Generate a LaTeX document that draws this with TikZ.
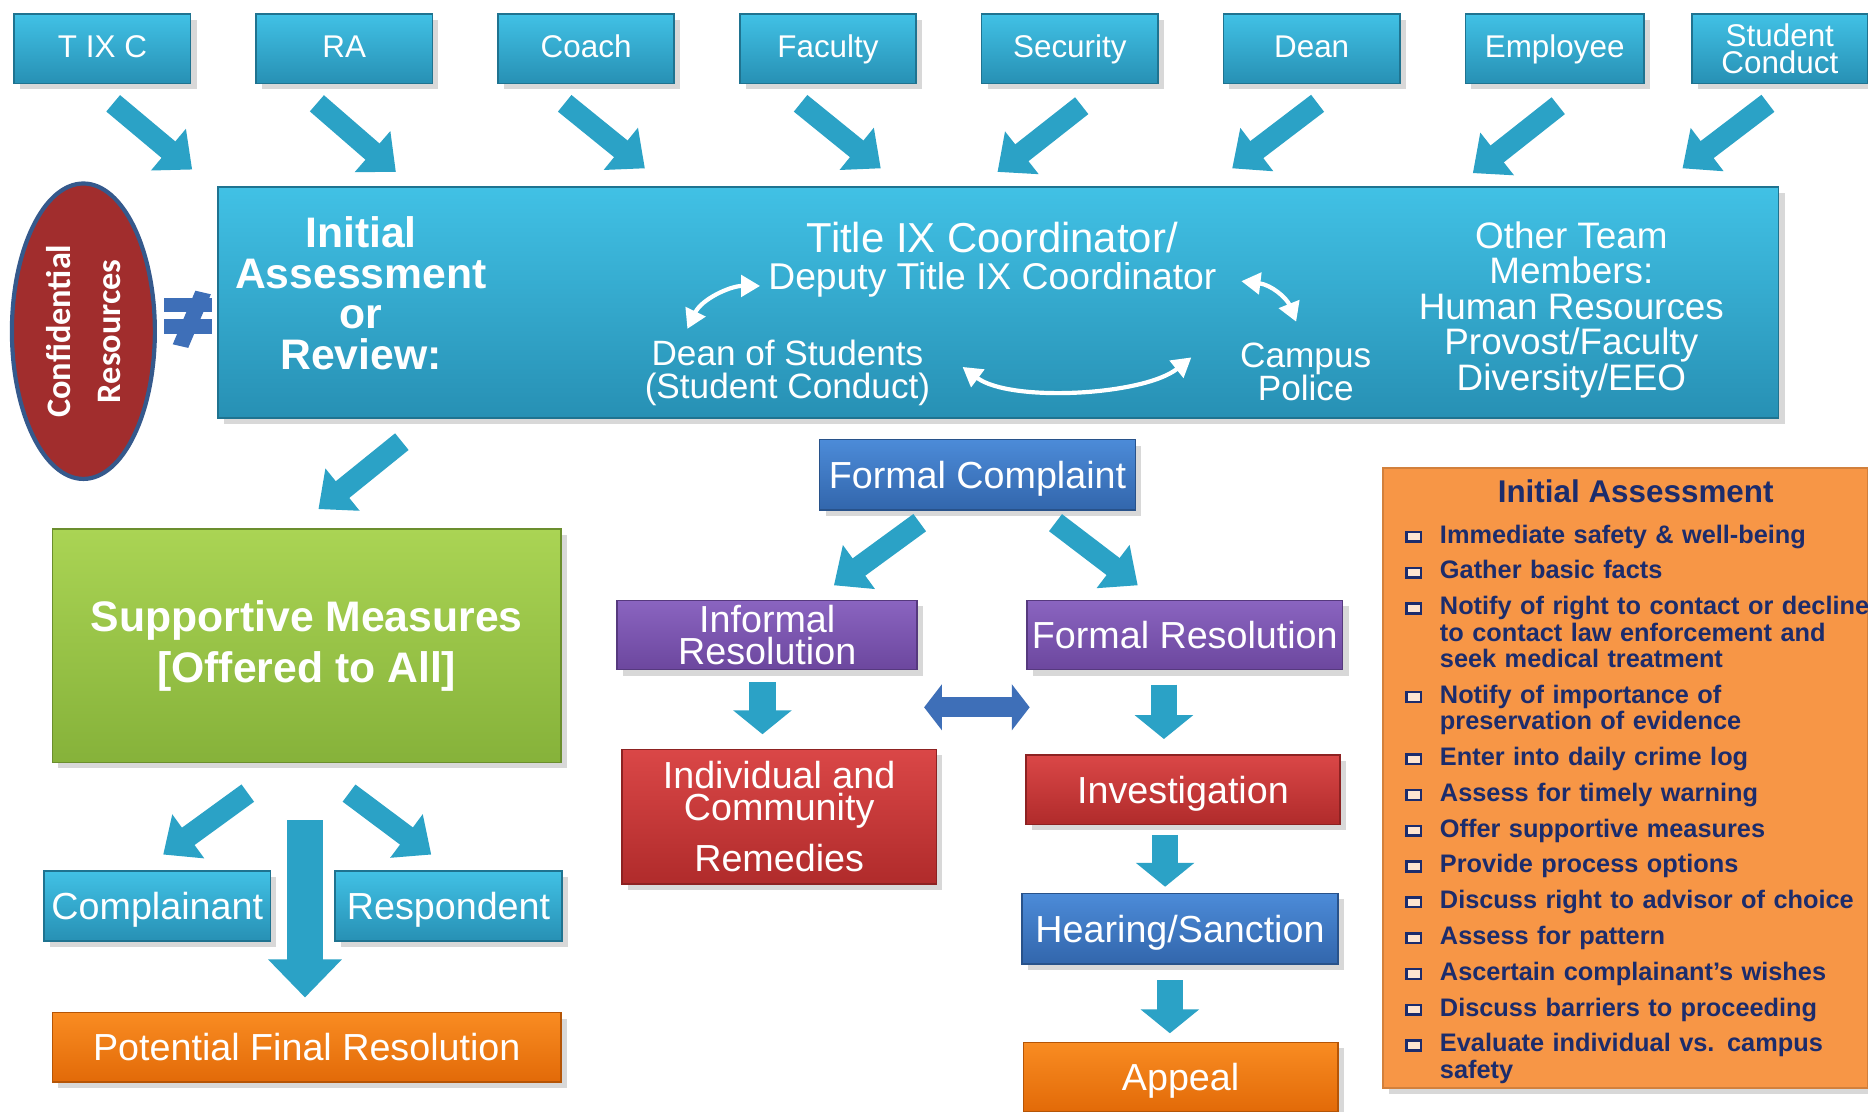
\documentclass[tikz,border=0pt]{standalone}
\usepackage{fontspec}
\setmainfont{Liberation Sans}
\newfontfamily\calibfont{Carlito}
\usepackage{enumitem}
\usetikzlibrary{arrows.meta,shadows,shapes.geometric,calc}

\definecolor{cytop}{HTML}{41C1E5}
\definecolor{cybot}{HTML}{2790B4}
\definecolor{grtop}{HTML}{AAD454}
\definecolor{grbot}{HTML}{86B23A}
\definecolor{putop}{HTML}{8A64C0}
\definecolor{pubot}{HTML}{6C479E}
\definecolor{rdtop}{HTML}{DA4747}
\definecolor{rdbot}{HTML}{B02B2B}
\definecolor{bltop}{HTML}{4C8BD8}
\definecolor{blbot}{HTML}{3266AC}
\definecolor{ortop}{HTML}{F98C22}
\definecolor{orbot}{HTML}{E26A08}
\definecolor{arrteal}{HTML}{2BA2C6}
\definecolor{listorg}{HTML}{F79646}
\definecolor{listtxt}{HTML}{1C2C6C}
\definecolor{confred}{HTML}{A12D2D}
\definecolor{confedge}{HTML}{35598C}
\definecolor{neqblue}{HTML}{3E6FB8}

\newcommand{\sqbul}{\raisebox{0.2ex}{\setlength{\fboxsep}{0pt}\setlength{\fboxrule}{0.6pt}\fcolorbox{listtxt}{white!75!listorg}{\rule{0pt}{0.6mm}\hspace{1mm}}}}

\begin{document}
\begin{tikzpicture}[x=0.1mm,y=-0.1mm,
	pbox/.style={rectangle, inner sep=0pt, text=white, align=center, top color=#1top, bottom color=#1bot, draw=#1bot!80!black, line width=0.4pt, drop shadow={opacity=0.3, shadow xshift=0.5mm, shadow yshift=-0.5mm}, font=\fontsize{9}{7.7}\selectfont},
	oneline/.style={text height=6.5pt, text depth=0.1pt},
	rolebase/.style={pbox=cy, minimum width=14.8mm, minimum height=5.8mm, font=\fontsize{7.5}{6.6}\selectfont},
	rolebox/.style={rolebase, text height=5.4pt, text depth=1.1pt},
	inner/.style={inner sep=0pt, text=white, align=center},
	fatarrow/.style={draw=arrteal, line width=1.8mm, -{Triangle[width=4.4mm,length=2.6mm]}},
	bigarrow/.style={draw=arrteal, line width=3mm, -{Triangle[width=6mm,length=3.2mm]}},
	downarrow/.style={draw=arrteal, line width=2.2mm, -{Triangle[width=4.8mm,length=2mm]}},
	swaparrow/.style={draw=neqblue, line width=1.7mm, {Triangle[width=3.8mm,length=1.5mm]}-{Triangle[width=3.8mm,length=1.5mm]}},
	whitearrow/.style={draw=white, line width=1pt, {Triangle[width=1.8mm,length=1.6mm]}-{Triangle[width=1.8mm,length=1.6mm]}}
	]
	\fill[white] (0,0) rectangle (1568,933);
	\useasboundingbox (0,0) rectangle (1568,933);

	%TOP BOXES
	\node[rolebox] (tixc) at (86,41) {T IX C};
	\node[rolebox] (ra) at (289,41) {RA};
	\node[rolebox] (coach) at (492,41) {Coach};
	\node[rolebox] (faculty) at (695,41) {Faculty};
	\node[rolebox] (security) at (898,41) {Security};
	\node[rolebox] (dean) at (1101,41) {Dean};
	\node[rolebox, minimum width=15mm] (employee) at (1305,41) {Employee};
	\node[rolebase] (stucon) at (1494,41) {Student\\Conduct};

	%TEAM BOX
	\node[pbox=cy, minimum width=131mm, minimum height=19.4mm] (team) at (838,254) {};
	\node[inner, font=\bfseries\fontsize{10.2}{9.7}\selectfont] (iar) at (303,246) {Initial\\Assessment\\or\\Review:};
	\node[inner, font=\fontsize{10}{8.8}\selectfont] (tc) at (833,218) {Title IX Coordinator/\\\fontsize{8.9}{8.8}\selectfont Deputy Title IX Coordinator};
	\node[inner, font=\fontsize{8.4}{8}\selectfont] (dos) at (661,313) {Dean of Students\\(Student Conduct)};
	\node[inner, font=\fontsize{8.4}{8}\selectfont] (cp) at (1096,312) {Campus\\Police};
	\node[inner, font=\fontsize{8.8}{8.5}\selectfont] (otm) at (1319,260) {Other Team\\Members:\\Human Resources\\Provost/Faculty\\Diversity/EEO};
	\draw[whitearrow] ($(dos)+(-84,-37)$) .. controls +(12,-25) and +(-25,0) .. ($(tc)+(-195,22)$);
	\draw[whitearrow] ($(tc)+(209,18)$) .. controls +(25,3) and +(-8,-20) .. ($(cp)+(-8,-42)$);
	\draw[whitearrow] ($(dos)+(147,-5)$) .. controls +(40,30) and +(-40,32) .. ($(cp)+(-96,-12)$);

	%CONFIDENTIAL
	\node[ellipse, rotate=90, inner sep=0pt, minimum width=24.8mm, minimum height=12mm, fill=confred, draw=confedge, line width=1pt, text=white, align=center, font=\calibfont\bfseries\fontsize{8.2}{12}\selectfont] (conf) at (70,278) {Confidential\\Resources};
	\fill[neqblue] (138,250) rectangle (178,262);
	\fill[neqblue] (138,268) rectangle (178,280);
	\fill[neqblue] (164,244)--(177,247)--(158,292)--(145,289)--cycle;

	%ARROWS TO TEAM
	\draw[fatarrow] ($(tixc.south)+(9,16)$) -- ($(team.north west)+(-21,-14)$);
	\draw[fatarrow] ($(ra.south)+(-23,16)$) -- ($(team.north west)+(150,-12)$);
	\draw[fatarrow] ($(coach.south)+(-18,16)$) -- ($(team.north west)+(359,-15)$);
	\draw[fatarrow] ($(faculty.south)+(-23,16)$) -- ($(team.north west)+(557,-15)$);
	\draw[fatarrow] ($(security.south)+(10,18)$) -- ($(team.north west)+(655,-12)$);
	\draw[fatarrow] ($(dean.south)+(5,16)$) -- ($(team.north west)+(852,-15)$);
	\draw[fatarrow] ($(employee.south)+(3,18)$) -- ($(team.north west)+(1054,-11)$);
	\draw[fatarrow] ($(stucon.south)+(-10,16)$) -- ($(team.north west)+(1230,-15)$);

	%SUPPORTIVE SIDE
	\node[pbox=gr, minimum width=42.7mm, minimum height=19.6mm, font=\bfseries\fontsize{10.2}{12.2}\selectfont] (supp) at (257.5,542) {Supportive Measures\\{[}Offered to All]};
	\node[pbox=cy, oneline, minimum width=19mm, minimum height=5.9mm] (compl) at (132,760.5) {Complainant};
	\node[pbox=cy, oneline, minimum width=19.1mm, minimum height=5.9mm] (resp) at (376.5,760.5) {Respondent};
	\node[pbox=or, oneline, minimum width=42.7mm, minimum height=5.8mm] (pfr) at (257.5,879) {Potential Final Resolution};
	\draw[fatarrow] ($(team.south west)+(155,19)$) -- ($(supp.north west)+(224,-16)$);
	\draw[fatarrow] ($(supp.south)+(-49.5,25)$) -- ($(compl.north)+(5,-13)$);
	\draw[fatarrow] ($(supp.south)+(35.5,25)$) -- ($(resp.north)+(-14.5,-13)$);
	\draw[bigarrow] ($(supp.south)+(-1.5,48)$) -- ($(pfr.north)+(-1.5,-12)$);

	%COMPLAINT SIDE
	\node[pbox=bl, oneline, minimum width=26.5mm, minimum height=5.9mm] (fc) at (820.5,398.5) {Formal Complaint};
	\node[pbox=pu, minimum width=25.2mm, minimum height=5.8mm] (ir) at (644,533) {Informal\\Resolution};
	\node[pbox=pu, oneline, minimum width=26.5mm, minimum height=5.8mm] (fr) at (994.5,533) {Formal Resolution};
	\node[pbox=rd, minimum width=26.4mm, minimum height=11.3mm] (rem) at (654,685.5) {Individual and\\Community\\[1mm]Remedies};
	\node[pbox=rd, oneline, minimum width=26.4mm, minimum height=5.8mm] (inv) at (993,663) {Investigation};
	\node[pbox=bl, oneline, minimum width=26.5mm, minimum height=5.9mm] (hs) at (990.5,779.5) {Hearing/Sanction};
	\node[pbox=or, oneline, minimum width=26.4mm, minimum height=5.8mm] (ap) at (991,904) {Appeal};
	\draw[fatarrow] ($(fc.south)+(-48.5,10)$) -- ($(ir.north)+(56,-12)$);
	\draw[fatarrow] ($(fc.south)+(65.5,10)$) -- ($(fr.north)+(-39.5,-12)$);
	\draw[downarrow] ($(ir.south)+(-4,10)$) -- ($(rem.north)+(-14,-12)$);
	\draw[downarrow] ($(fr.south)+(-17.5,12)$) -- ($(inv.north)+(-16,-13)$);
	\draw[downarrow] ($(inv.south)+(-15,8)$) -- ($(hs.north)+(-12.5,-5)$);
	\draw[downarrow] ($(hs.south)+(-8.5,13)$) -- ($(ap.north)+(-9,-7)$);
	\draw[swaparrow] ($(ir.south east)+(5,31)$) -- ($(fr.south west)+(3,31)$);

	%INITIAL ASSESSMENT LIST
	\node[rectangle, fill=listorg, draw=listorg!85!black, line width=0.4pt, drop shadow={opacity=0.3, shadow xshift=0.5mm, shadow yshift=-0.5mm}, minimum width=40.7mm, minimum height=52mm, inner sep=0pt] (iabox) at (1364.5,653) {};
	\node[inner sep=0pt, text=listtxt, font=\bfseries\fontsize{7.5}{7.5}\selectfont] (iatitle) at (1373,412) {Initial Assessment};
	\node[anchor=north west, inner sep=0pt, text=listtxt, text width=42mm, align=left, font=\bfseries\fontsize{6.05}{6.3}\selectfont] (ialist) at (1182,433) {%
		\begin{itemize}[leftmargin=2.6mm, labelwidth=1.1mm, labelsep=1.5mm, itemsep=2.25pt, parsep=0pt, topsep=0pt, partopsep=0pt, label=\sqbul]
		\item Immediate safety \& well-being
		\item Gather basic facts
		\item Notify of right to contact or decline\\to contact law enforcement and\\seek medical treatment
		\item Notify of importance of\\preservation of evidence
		\item Enter into daily crime log
		\item Assess for timely warning
		\item Offer supportive measures
		\item Provide process options
		\item Discuss right to advisor of choice
		\item Assess for pattern
		\item Ascertain complainant’s wishes
		\item Discuss barriers to proceeding
		\item Evaluate individual vs. campus\\safety
		\end{itemize}};
\end{tikzpicture}
\end{document}
